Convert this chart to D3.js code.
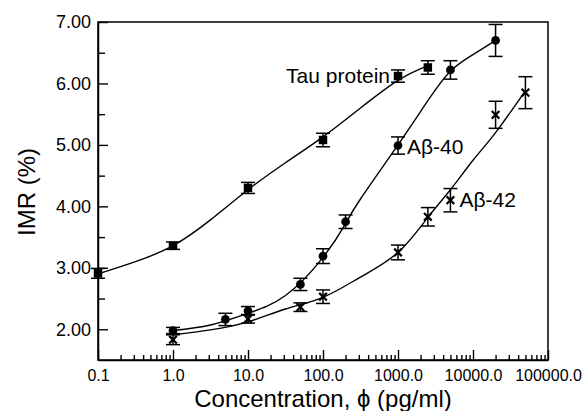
<!DOCTYPE html>
<html>
<head>
<meta charset="utf-8">
<script src="https://cdn.jsdelivr.net/npm/d3@7"></script>
<style>
  body { margin: 0; background: #fff; }
  text { font-family: "Liberation Sans", Arial, sans-serif; fill: #000; }
</style>
</head>
<body>
<div id="vis1"></div>
<script>
const WIDTH = 585;
const HEIGHT = 411;
const MARG = {left: 98, right: 37, top: 22, bottom: 51};

// measured points
const tauX = [0.1, 1, 10, 100, 1000, 2500];
const tauY = [2.91, 3.36, 4.30, 5.08, 6.12, 6.26];
const tauErr = [0.08, 0.06, 0.09, 0.11, 0.10, 0.11];

const ab40X = [1, 5, 10, 50, 100, 200, 1000, 5000, 20000];
const ab40Y = [1.98, 2.16, 2.30, 2.73, 3.19, 3.75, 4.99, 6.22, 6.70];
const ab40Err = [0.05, 0.10, 0.07, 0.10, 0.12, 0.11, 0.14, 0.15, 0.26];

const ab42X = [1, 10, 50, 100, 1000, 2500, 5000, 20000, 50000];
const ab42Y = [1.83, 2.17, 2.36, 2.53, 3.25, 3.83, 4.10, 5.49, 5.85];
const ab42Err = [0.08, 0.07, 0.07, 0.11, 0.12, 0.15, 0.19, 0.22, 0.26];

// fitted curves
const tauFitX = [0.1, 0.316, 1, 3.16, 10, 31.6, 100, 316, 1000, 2500];
const tauFitY = [2.90, 3.10, 3.36, 3.78, 4.27, 4.71, 5.13, 5.60, 6.05, 6.29];
const ab40FitX = [1, 3.16, 10, 31.6, 100, 200, 316, 1000, 2500, 5000, 10000, 20000];
const ab40FitY = [1.98, 2.07, 2.26, 2.55, 3.17, 3.72, 4.12, 5.00, 5.72, 6.20, 6.47, 6.70];
const ab42FitX = [1, 3.16, 10, 31.6, 100, 316, 1000, 2500, 5000, 10000, 20000, 50000];
const ab42FitY = [1.91, 1.99, 2.12, 2.33, 2.52, 2.85, 3.25, 3.82, 4.27, 4.75, 5.20, 5.88];

const xTicks = [0.1, 1, 10, 100, 1000, 10000, 100000];
const xTickLabels = ["0.1", "1.0", "10.0", "100.0", "1000.0", "10000.0", "100000.0"];
const yTicks = [2, 3, 4, 5, 6, 7];
const yMinor = [2.5, 3.5, 4.5, 5.5, 6.5];

const VIS_WIDTH = WIDTH - MARG.left - MARG.right;
const VIS_HEIGHT = HEIGHT - MARG.top - MARG.bottom;

const svg = d3.select("#vis1").append("svg")
    .attr("width", WIDTH)
    .attr("height", HEIGHT);

const g = svg.append("g").attr("transform", "translate(" + MARG.left + "," + MARG.top + ")");

const X_SCALE = d3.scaleLog().domain([0.1, 100000]).range([0, VIS_WIDTH]);
const Y_SCALE = d3.scaleLinear().domain([1.5, 7]).range([VIS_HEIGHT, 0]);

// minor x ticks 2..9 in each decade
let xMinor = [];
for (let d = 0.1; d < 100000; d *= 10) {
    for (let m = 2; m <= 9; m++) xMinor.push(d * m);
}

// axes, ticks inward
g.append("g").attr("transform", "translate(0," + VIS_HEIGHT + ")")
    .call(d3.axisBottom(X_SCALE).tickValues(xMinor).tickSize(-5).tickFormat(""))
    .call(a => a.select(".domain").remove());
const xAx = g.append("g").attr("transform", "translate(0," + VIS_HEIGHT + ")")
    .call(d3.axisBottom(X_SCALE).tickValues(xTicks).tickSizeInner(-10).tickSizeOuter(0)
        .tickPadding(10).tickFormat((d, i) => xTickLabels[i]));
xAx.selectAll("text").style("font-size", "16px");

g.append("g")
    .call(d3.axisLeft(Y_SCALE).tickValues(yMinor).tickSize(-7).tickFormat(""))
    .call(a => a.select(".domain").remove());
const yAx = g.append("g")
    .call(d3.axisLeft(Y_SCALE).tickValues(yTicks).tickSizeInner(-10).tickSizeOuter(0)
        .tickPadding(7).tickFormat(d3.format(".2f")));
yAx.selectAll("text").style("font-size", "18px");

g.selectAll(".tick line").attr("stroke-width", 1.4);
g.selectAll(".domain").attr("stroke-width", 1.5);

// frame
g.append("rect")
    .attr("width", VIS_WIDTH).attr("height", VIS_HEIGHT)
    .attr("fill", "none").attr("stroke", "#000").attr("stroke-width", 1.5);

// fitted curves
const line = d3.line()
    .x(d => X_SCALE(d[0]))
    .y(d => Y_SCALE(d[1]))
    .curve(d3.curveNatural);

[[tauFitX, tauFitY], [ab40FitX, ab40FitY], [ab42FitX, ab42FitY]].forEach(([xs, ys]) => {
    g.append("path")
        .datum(xs.map((x, i) => [x, ys[i]]))
        .attr("d", line)
        .attr("fill", "none")
        .attr("stroke", "#000")
        .attr("stroke-width", 1.4);
});

// error bars + markers
function drawSeries(xs, ys, errs, shape) {
    const data = xs.map((x, i) => ({x: x, y: ys[i], e: errs[i]}));
    const eb = g.append("g").selectAll("g").data(data).enter().append("g")
        .attr("stroke", "#000").attr("stroke-width", 1.5);
    eb.append("line")
        .attr("x1", d => X_SCALE(d.x)).attr("x2", d => X_SCALE(d.x))
        .attr("y1", d => Y_SCALE(d.y - d.e)).attr("y2", d => Y_SCALE(d.y + d.e));
    [1, -1].forEach(s => {
        eb.append("line")
            .attr("x1", d => X_SCALE(d.x) - 7).attr("x2", d => X_SCALE(d.x) + 7)
            .attr("y1", d => Y_SCALE(d.y + s * d.e)).attr("y2", d => Y_SCALE(d.y + s * d.e));
    });

    const mk = g.append("g").selectAll("path").data(data).enter().append("path")
        .attr("transform", d => "translate(" + X_SCALE(d.x) + "," + Y_SCALE(d.y) + ")");
    if (shape === "square") {
        mk.attr("d", d3.symbol(d3.symbolSquare, 72)).attr("fill", "#000");
    } else if (shape === "circle") {
        mk.attr("d", d3.symbol(d3.symbolCircle, 60)).attr("fill", "#000");
    } else {
        mk.attr("d", d3.symbol(d3.symbolX, 40)).attr("fill", "none")
            .attr("stroke", "#000").attr("stroke-width", 2.2);
    }
}

drawSeries(tauX, tauY, tauErr, "square");
drawSeries(ab40X, ab40Y, ab40Err, "circle");
drawSeries(ab42X, ab42Y, ab42Err, "x");

// series labels
g.append("text")
    .attr("x", X_SCALE(1000) - 8).attr("y", Y_SCALE(6.12) + 7)
    .attr("text-anchor", "end").style("font-size", "21px")
    .text("Tau protein");
g.append("text")
    .attr("x", X_SCALE(1000) + 9).attr("y", Y_SCALE(4.99) + 8)
    .style("font-size", "21px")
    .text("A\u03b2-40");
g.append("text")
    .attr("x", X_SCALE(5000) + 9).attr("y", Y_SCALE(4.10) + 7)
    .style("font-size", "21px")
    .text("A\u03b2-42");

// axis titles
svg.append("text")
    .attr("x", MARG.left + VIS_WIDTH / 2).attr("y", 407)
    .attr("text-anchor", "middle").style("font-size", "24px")
    .text("Concentration, \u03d5 (pg/ml)");
svg.append("text")
    .attr("transform", "translate(35," + (MARG.top + 170) + ") rotate(-90)")
    .attr("text-anchor", "middle").style("font-size", "24px")
    .text("IMR (%)");
</script>
</body>
</html>
